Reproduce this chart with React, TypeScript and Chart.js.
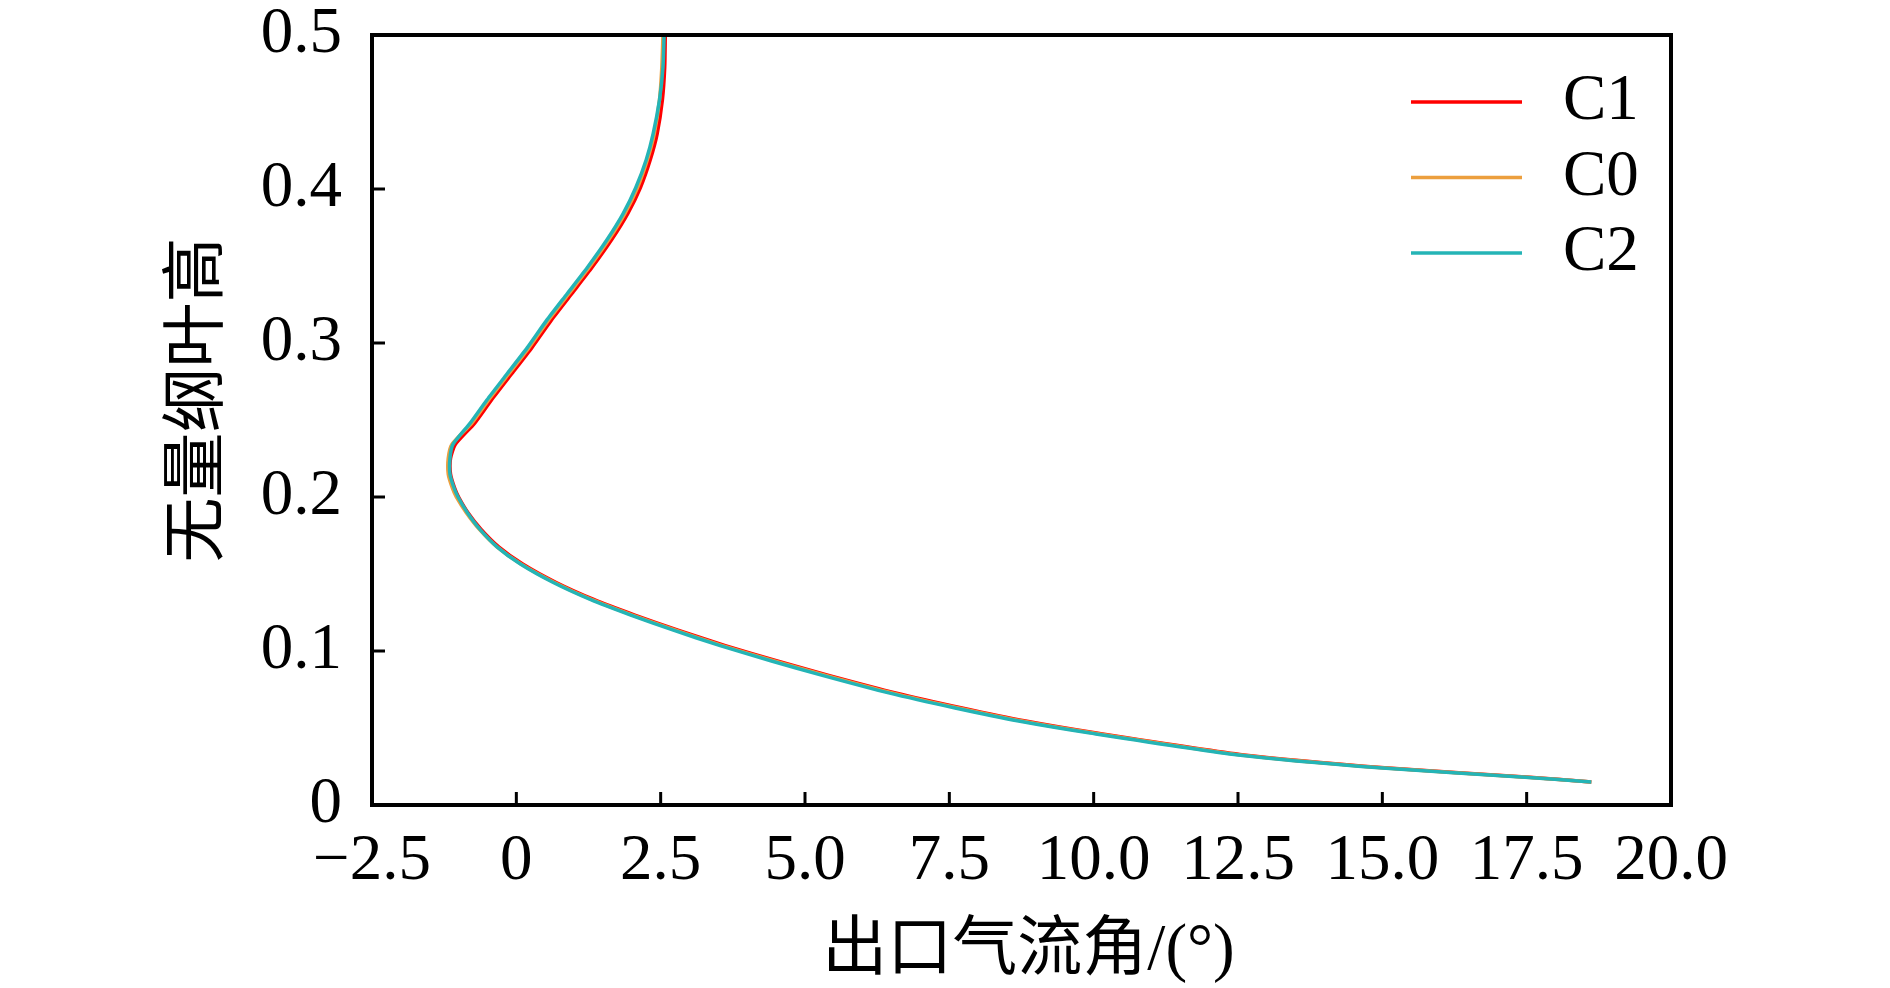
import { useEffect, useRef } from "react";
import { Chart, registerables } from "chart.js";
import type { Plugin } from "chart.js";

Chart.register(...registerables);

// 无量纲叶高 (y) shared by every case
const heights = [
  0.015, 0.018, 0.024, 0.0325, 0.0467, 0.0545, 0.063, 0.0728, 0.0842, 0.0935,
  0.1035, 0.1135, 0.1235, 0.1335, 0.1445, 0.1565, 0.1675, 0.179, 0.19, 0.2,
  0.206, 0.215, 0.225, 0.234, 0.248, 0.263, 0.28, 0.297, 0.315, 0.332, 0.349,
  0.367, 0.384, 0.401, 0.419, 0.436, 0.458, 0.479, 0.5,
];

// 出口气流角 (x) per case
const angleC1 = [
  18.62, 17.55, 15.1, 12.6, 10.05, 8.82, 7.72, 6.57, 5.41, 4.52, 3.62, 2.8,
  2.04, 1.34, 0.69, 0.11, -0.3, -0.61, -0.84, -1.0, -1.07, -1.14, -1.14,
  -1.06, -0.72, -0.43, -0.08, 0.27, 0.61, 0.96, 1.31, 1.65, 1.93, 2.15, 2.32,
  2.44, 2.53, 2.57, 2.58,
];
const angleC0 = [
  18.62, 17.5, 15.05, 12.55, 10.0, 8.76, 7.66, 6.51, 5.36, 4.47, 3.57, 2.76,
  2.0, 1.3, 0.66, 0.08, -0.33, -0.64, -0.87, -1.04, -1.11, -1.18, -1.18,
  -1.12, -0.77, -0.48, -0.13, 0.22, 0.56, 0.91, 1.26, 1.6, 1.88, 2.1, 2.27,
  2.39, 2.48, 2.52, 2.54,
];
const angleC2 = [
  18.62, 17.47, 15.0, 12.5, 9.94, 8.7, 7.6, 6.45, 5.3, 4.42, 3.53, 2.72,
  1.97, 1.28, 0.64, 0.07, -0.33, -0.63, -0.85, -1.01, -1.08, -1.15, -1.15,
  -1.1, -0.8, -0.51, -0.16, 0.19, 0.53, 0.88, 1.23, 1.57, 1.85, 2.07, 2.25,
  2.37, 2.48, 2.54, 2.56,
];

const seriesNames = ["C1", "C0", "C2"];
const seriesColors = ["#ff0000", "#ec9f3e", "#24b4b6"];
const xTicks = [-2.5, 0, 2.5, 5, 7.5, 10, 12.5, 15, 17.5, 20];
const yTicks = [0, 0.1, 0.2, 0.3, 0.4, 0.5];
const xTitle = "出口气流角/(°)";
const yTitle = "无量纲叶高";

const FONT = '"Liberation Serif", "Times New Roman", "Noto Sans CJK SC", serif';

const toPoints = (xs: number[]) => xs.map((x, i) => ({ x, y: heights[i] }));

// frame, inward ticks, axis titles and the legend
const decorPlugin: Plugin<"scatter"> = {
  id: "decor",
  afterDraw(chart) {
    const { ctx, chartArea } = chart;
    const { left, right, top, bottom } = chartArea;
    const xs = chart.scales.x;
    const ys = chart.scales.y;
    ctx.save();
    ctx.strokeStyle = "#000";
    ctx.lineWidth = 3;
    xTicks.forEach((v) => {
      const px = xs.getPixelForValue(v);
      ctx.beginPath();
      ctx.moveTo(px, bottom);
      ctx.lineTo(px, bottom - 13);
      ctx.stroke();
    });
    yTicks.forEach((v) => {
      const py = ys.getPixelForValue(v);
      ctx.beginPath();
      ctx.moveTo(left, py);
      ctx.lineTo(left + 13, py);
      ctx.stroke();
    });
    ctx.lineWidth = 4;
    ctx.strokeRect(left, top, right - left, bottom - top);

    // axis titles
    ctx.fillStyle = "#000";
    ctx.font = `65px ${FONT}`;
    ctx.textAlign = "center";
    ctx.textBaseline = "middle";
    ctx.fillText(xTitle, (left + right) / 2 + 7, 952);
    ctx.save();
    ctx.translate(200, 400);
    ctx.rotate(-Math.PI / 2);
    ctx.fillText(yTitle, 0, 0);
    ctx.restore();

    // legend
    ctx.textAlign = "left";
    seriesNames.forEach((name, i) => {
      const y = 102 + i * 75.5;
      ctx.strokeStyle = seriesColors[i];
      ctx.lineWidth = 3.5;
      ctx.beginPath();
      ctx.moveTo(1411, y);
      ctx.lineTo(1522, y);
      ctx.stroke();
      ctx.fillStyle = "#000";
      ctx.fillText(name, 1563, y);
    });
    ctx.restore();
  },
};

const fmt = (v: number) =>
  Math.abs(v) < 1e-9 ? "0" : v.toFixed(1).replace("-", "\u2212");

export default function App() {
  const canvasRef = useRef<HTMLCanvasElement | null>(null);

  useEffect(() => {
    if (!canvasRef.current) return;
    const angles = [angleC1, angleC0, angleC2];
    const chart = new Chart(canvasRef.current, {
      type: "scatter",
      data: {
        datasets: seriesNames.map((name, i) => ({
          label: name,
          data: toPoints(angles[i]),
          showLine: true,
          borderColor: seriesColors[i],
          backgroundColor: seriesColors[i],
          borderWidth: 3.5,
          pointRadius: 0,
          tension: 0.2,
          order: 3 - i, // C2 drawn on top
        })),
      },
      options: {
        responsive: false,
        animation: false,
        devicePixelRatio: 1,
        layout: { padding: { left: 0, top: 35, right: 219, bottom: 0 } },
        plugins: {
          legend: { display: false },
          tooltip: { enabled: false },
        },
        scales: {
          x: {
            type: "linear",
            min: -2.5,
            max: 20,
            afterFit: (scale) => {
              scale.height = 183;
              scale.paddingLeft = 0;
              scale.paddingRight = 0;
            },
            afterBuildTicks: (scale) => {
              scale.ticks = xTicks.map((value) => ({ value }));
            },
            grid: { drawOnChartArea: false, drawTicks: false },
            border: { display: false },
            ticks: {
              autoSkip: false,
              maxRotation: 0,
              padding: 18,
              color: "#000",
              font: { family: FONT, size: 65 },
              callback: (v) => fmt(Number(v)),
            },
          },
          y: {
            type: "linear",
            min: 0,
            max: 0.5,
            afterFit: (scale) => {
              scale.width = 372;
              scale.paddingTop = 0;
              scale.paddingBottom = 0;
            },
            afterBuildTicks: (scale) => {
              scale.ticks = yTicks.map((value) => ({ value }));
            },
            grid: { drawOnChartArea: false, drawTicks: false },
            border: { display: false },
            ticks: {
              autoSkip: false,
              padding: 30,
              color: "#000",
              font: { family: FONT, size: 65 },
              callback: (v) => fmt(Number(v)),
            },
          },
        },
      },
      plugins: [decorPlugin],
    });
    return () => chart.destroy();
  }, []);

  return (
    <div style={{ position: "absolute", left: 0, top: 0, width: 1890, height: 988, background: "#fff" }}>
      <canvas ref={canvasRef} width={1890} height={988} />
    </div>
  );
}
